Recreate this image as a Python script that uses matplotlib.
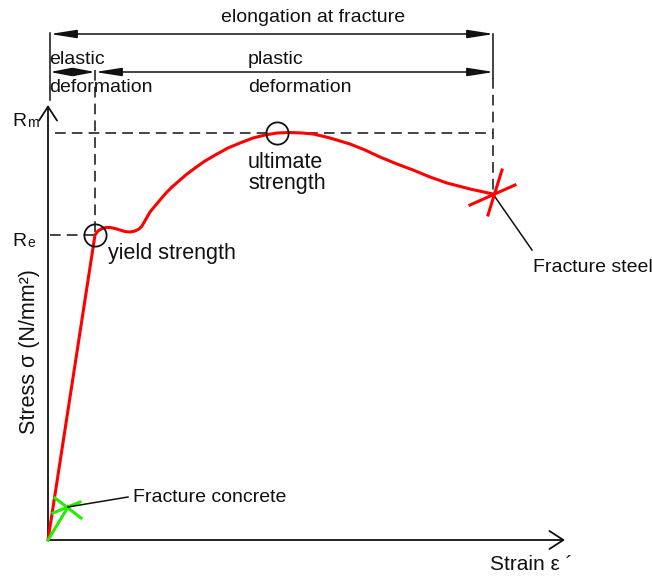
import matplotlib.pyplot as plt

plt.rcParams["font.family"] = ["Liberation Sans", "DejaVu Sans"]

# stress-strain curve of steel (strain, stress) in drawing units
STEEL_STRAIN = [0, 47, 50, 54, 58, 62, 67, 72, 77, 82, 87, 91, 94, 98, 102,
                107, 112, 118, 124, 132, 139, 147, 157, 169, 180, 192, 205, 217,
                229, 242, 254, 265, 274, 282, 292, 302, 317, 332, 349, 365, 382,
                399, 422, 445]
STEEL_STRESS = [0, 305, 309, 311.5, 312.5, 312.5, 311.5, 310, 308.5, 308, 309,
                311, 314, 321, 328, 334, 340, 347, 353, 360, 366, 372, 379, 386,
                392, 397, 402, 405, 407, 407.5, 407, 406, 404, 402, 399, 396,
                390, 383, 376, 370, 363, 357, 351, 346]

# concrete breaks early
CONCRETE_STRAIN = [0, 20]
CONCRETE_STRESS = [0, 33]

RE = 305          # yield strength level
RM = 407          # ultimate strength level
EPS_YIELD = 47
EPS_ULT = 229
EPS_FRACT = 445
SIG_FRACT = 346

BLACK = "#111111"
RED = "#ff0000"
GREEN = "#22ee00"
DASH = (0, (7, 4))


def dim_arrow(ax, x0, x1, y, head=1.6):
    ax.annotate("", xy=(x1, y), xytext=(x0, y),
                arrowprops=dict(arrowstyle=f"<|-|>,head_length={head},head_width=0.25",
                                color=BLACK, lw=1.1, shrinkA=0, shrinkB=0,
                                mutation_scale=10))


def axis_arrow(ax, start, end):
    ax.annotate("", xy=end, xytext=start,
                arrowprops=dict(arrowstyle="->,head_length=1.0,head_width=0.65",
                                color=BLACK, lw=1.3, shrinkA=0, shrinkB=0,
                                mutation_scale=10))


fig = plt.figure(figsize=(6.52, 5.77), dpi=100)
ax = fig.add_axes([0, 0, 1, 1])
ax.set_xlim(-48, 604)
ax.set_ylim(-37, 540)
ax.set_axis_off()

# axes with open arrow heads
axis_arrow(ax, (0, 0), (0, 435))
axis_arrow(ax, (0, 0), (517, 0))

# guide lines
ax.plot([2, EPS_YIELD], [RE, RE], color=BLACK, lw=1.1, ls=DASH)
ax.plot([7, EPS_FRACT], [RM, RM], color=BLACK, lw=1.1, ls=DASH)
ax.plot([EPS_YIELD, EPS_YIELD], [470, RE], color=BLACK, lw=1.1, ls=DASH)
ax.plot([EPS_FRACT, EPS_FRACT], [506, 462], color=BLACK, lw=1.1)
ax.plot([EPS_FRACT, EPS_FRACT], [462, SIG_FRACT], color=BLACK, lw=1.1, ls=DASH)
ax.plot([2, 2], [507, 440], color=BLACK, lw=1.1)

# dimension arrows
dim_arrow(ax, 2, EPS_FRACT + 1, 506)
dim_arrow(ax, 2, EPS_YIELD, 468, head=1.3)
dim_arrow(ax, EPS_YIELD, EPS_FRACT + 1, 468)

# curves
ax.plot(STEEL_STRAIN, STEEL_STRESS, color=RED, lw=2.2, solid_capstyle="round",
        solid_joinstyle="round", zorder=3)
ax.plot(CONCRETE_STRAIN, CONCRETE_STRESS, color=GREEN, lw=2.2, zorder=3)

# fracture markers
ax.plot([422, 467], [335, 355], color=RED, lw=2.2, zorder=3)
ax.plot([440, 454], [325, 370], color=RED, lw=2.2, zorder=3)
ax.plot([7, 33], [42, 22], color=GREEN, lw=2.2, zorder=3)
ax.plot([5, 32], [27, 38], color=GREEN, lw=2.2, zorder=3)

# leaders
ax.plot([EPS_FRACT, 484], [SIG_FRACT, 290], color=BLACK, lw=1.1, zorder=2)
ax.plot([CONCRETE_STRAIN[-1], 80], [CONCRETE_STRESS[-1], 43], color=BLACK, lw=1.1, zorder=4)

# yield and ultimate points
ax.plot([EPS_YIELD, EPS_ULT], [RE, RM], "o", mfc="none", mec=BLACK, mew=1.3, ms=16, zorder=5)

# labels
ax.text(265, 522, "elongation at fracture", fontsize=14, ha="center", va="center", color=BLACK)
ax.text(1, 480, "elastic", fontsize=14, ha="left", va="center", color=BLACK)
ax.text(1, 452, "deformation", fontsize=14, ha="left", va="center", color=BLACK)
ax.text(200, 480, "plastic", fontsize=14, ha="left", va="center", color=BLACK)
ax.text(200, 452, "deformation", fontsize=14, ha="left", va="center", color=BLACK)

ax.text(-36, 414, "R", fontsize=14, ha="left", va="baseline", color=BLACK)
ax.text(-21, 413, "m", fontsize=10, ha="left", va="baseline", color=BLACK)
ax.text(-36, 294, "R", fontsize=14, ha="left", va="baseline", color=BLACK)
ax.text(-21, 293, "e", fontsize=10, ha="left", va="baseline", color=BLACK)

ax.text(60, 287, "yield strength", fontsize=15.5, ha="left", va="center", color=BLACK)
ax.text(200, 367, "ultimate\nstrength", fontsize=15.5, ha="left", va="center",
        linespacing=0.95, color=BLACK)
ax.text(485, 272, "Fracture steel", fontsize=14, ha="left", va="center", color=BLACK)
ax.text(85, 43, "Fracture concrete", fontsize=14, ha="left", va="center", color=BLACK)

ax.text(-18, 188, "Stress σ (N/mm²)", fontsize=15.5, rotation=90, ha="center",
        va="center", color=BLACK)
ax.text(442, -25, "Strain ε ´", fontsize=15, ha="left", va="center", color=BLACK)

fig.savefig("out.png", dpi=100)
